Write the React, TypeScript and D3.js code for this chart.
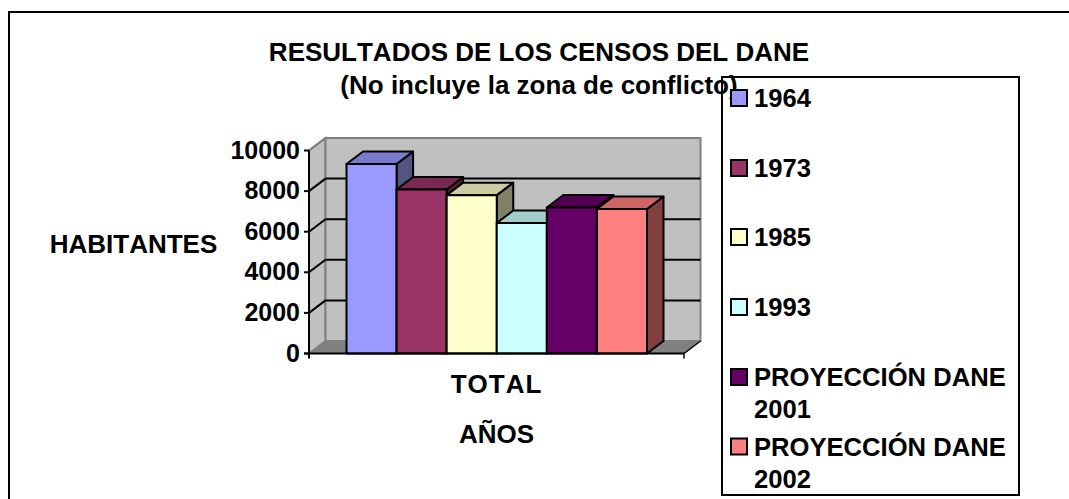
import React from "react";
import * as d3 from "d3";

const seriesNames = ["1964", "1973", "1985", "1993", "PROYECCIÓN DANE 2001", "PROYECCIÓN DANE 2002"];
const seriesValues = [9335, 8080, 7800, 6430, 7190, 7120];
const frontColors = ["#9999ff", "#993366", "#ffffcc", "#ccffff", "#660066", "#ff8080"];
const topColors = ["#7a7acc", "#7a2952", "#cccca3", "#a3cccc", "#520052", "#cc6666"];
const sideColors = ["#545480", "#542038", "#808066", "#668080", "#380038", "#804040"];
const yTicks = [0, 2000, 4000, 6000, 8000, 10000];
const legendLines = [["1964"], ["1973"], ["1985"], ["1993"], ["PROYECCIÓN DANE", "2001"], ["PROYECCIÓN DANE", "2002"]];
const legendY = [98, 168, 237, 307, 377, 446.5];

const W = 1069, H = 499;
const dx = 16.5, dy = -12.5;
const y = d3.scaleLinear().domain([0, 10000]).range([353.5, 150.5]);
const x = d3.scaleBand().domain(seriesNames).range([346.5, 647]).padding(0);
const font = "Liberation Sans, Arial, sans-serif";

const poly = (pts: number[][]) => pts.map(p => p.join(",")).join(" ");

export default function App() {
  const x0 = 309, x1 = 684;
  const y0 = y(0), yT = y(10000);
  return (
    <svg width={W} height={H} style={{ position: "absolute", left: 0, top: 0, background: "#fff", fontKerning: "none" }} fontFamily={font} fontWeight="bold" fill="#000">
      <path d={`M9,${H} V12 H${W}`} fill="none" stroke="#000" strokeWidth={2} />

      {/* walls */}
      <polygon points={poly([[x0, y0], [x0 + dx, y0 + dy], [x0 + dx, yT + dy], [x0, yT]])} fill="#c0c0c0" stroke="#808080" strokeWidth={2} />
      <polygon points={poly([[x0 + dx, y0 + dy], [x1 + dx, y0 + dy], [x1 + dx, yT + dy], [x0 + dx, yT + dy]])} fill="#c0c0c0" stroke="#808080" strokeWidth={2} />
      <polygon points={poly([[x0, y0], [x1, y0], [x1 + dx, y0 + dy], [x0 + dx, y0 + dy]])} fill="#808080" stroke="#808080" />
      {yTicks.filter(t => t > 0 && t < 10000).map(t => (
        <line key={t} x1={x0 + dx} x2={x1 + dx} y1={y(t) + dy} y2={y(t) + dy} stroke="#000" strokeWidth={2} />
      ))}
      {yTicks.slice(1).map(t => (
        <line key={t} x1={x0} x2={x0 + dx} y1={y(t)} y2={y(t) + dy} stroke={t === 10000 ? "#808080" : "#000"} strokeWidth={2} />
      ))}
      <line x1={x0} x2={x0 + dx} y1={y0} y2={y0 + dy} stroke="#808080" strokeWidth={1} />
      <line x1={x1} x2={x1 + dx} y1={y0} y2={y0 + dy} stroke="#000" strokeWidth={1.5} />

      {/* bars */}
      {seriesNames.map((s, i) => {
        const l = x(s)!, r = l + x.bandwidth(), t = y(seriesValues[i]);
        return (
          <g key={s} stroke="#000" strokeWidth={2} strokeLinejoin="round">
            <polygon points={poly([[r, y0], [r + dx, y0 + dy], [r + dx, t + dy], [r, t]])} fill={sideColors[i]} />
            <polygon points={poly([[l, t], [l + dx, t + dy], [r + dx, t + dy], [r, t]])} fill={topColors[i]} />
            <rect x={l} y={t} width={r - l} height={y0 - t} fill={frontColors[i]} />
          </g>
        );
      })}

      {/* axes */}
      <line x1={x0} x2={x0} y1={yT} y2={y0 + 5} stroke="#000" strokeWidth={2} />
      <line x1={x0 - 5} x2={x1} y1={y0} y2={y0} stroke="#000" strokeWidth={2} />
      <line x1={x1} x2={x1} y1={y0} y2={y0 + 5} stroke="#000" strokeWidth={1.5} />
      {yTicks.map(t => (
        <g key={t}>
          <line x1={x0 - 5} x2={x0} y1={y(t)} y2={y(t)} stroke="#000" strokeWidth={2} />
          <text x={300} y={y(t) + 8} fontSize={25} textAnchor="end">{t}</text>
        </g>
      ))}
      <text x={496.5} y={393} fontSize={26} letterSpacing={1} textAnchor="middle">TOTAL</text>
      <text x={496.5} y={443} fontSize={26} textAnchor="middle">AÑOS</text>
      <text x={133.5} y={253} fontSize={26} textAnchor="middle">HABITANTES</text>

      {/* legend box, then the title over it, then keys */}
      <rect x={722} y={77} width={297} height={418} fill="#fff" stroke="#000" strokeWidth={2} />
      <text x={539} y={61} fontSize={26} textAnchor="middle">RESULTADOS DE LOS CENSOS DEL DANE</text>
      <text x={539} y={94} fontSize={26} textAnchor="middle">(No incluye la zona de conflicto)</text>
      {seriesNames.map((s, i) => (
        <g key={s}>
          <rect x={731} y={legendY[i] - 8} width={16} height={16} fill={frontColors[i]} stroke="#000" strokeWidth={2} />
          {legendLines[i].map((ln, k) => (
            <text key={k} x={754} y={legendY[i] + 9 + k * 32} fontSize={25.6}>{ln}</text>
          ))}
        </g>
      ))}
    </svg>
  );
}
